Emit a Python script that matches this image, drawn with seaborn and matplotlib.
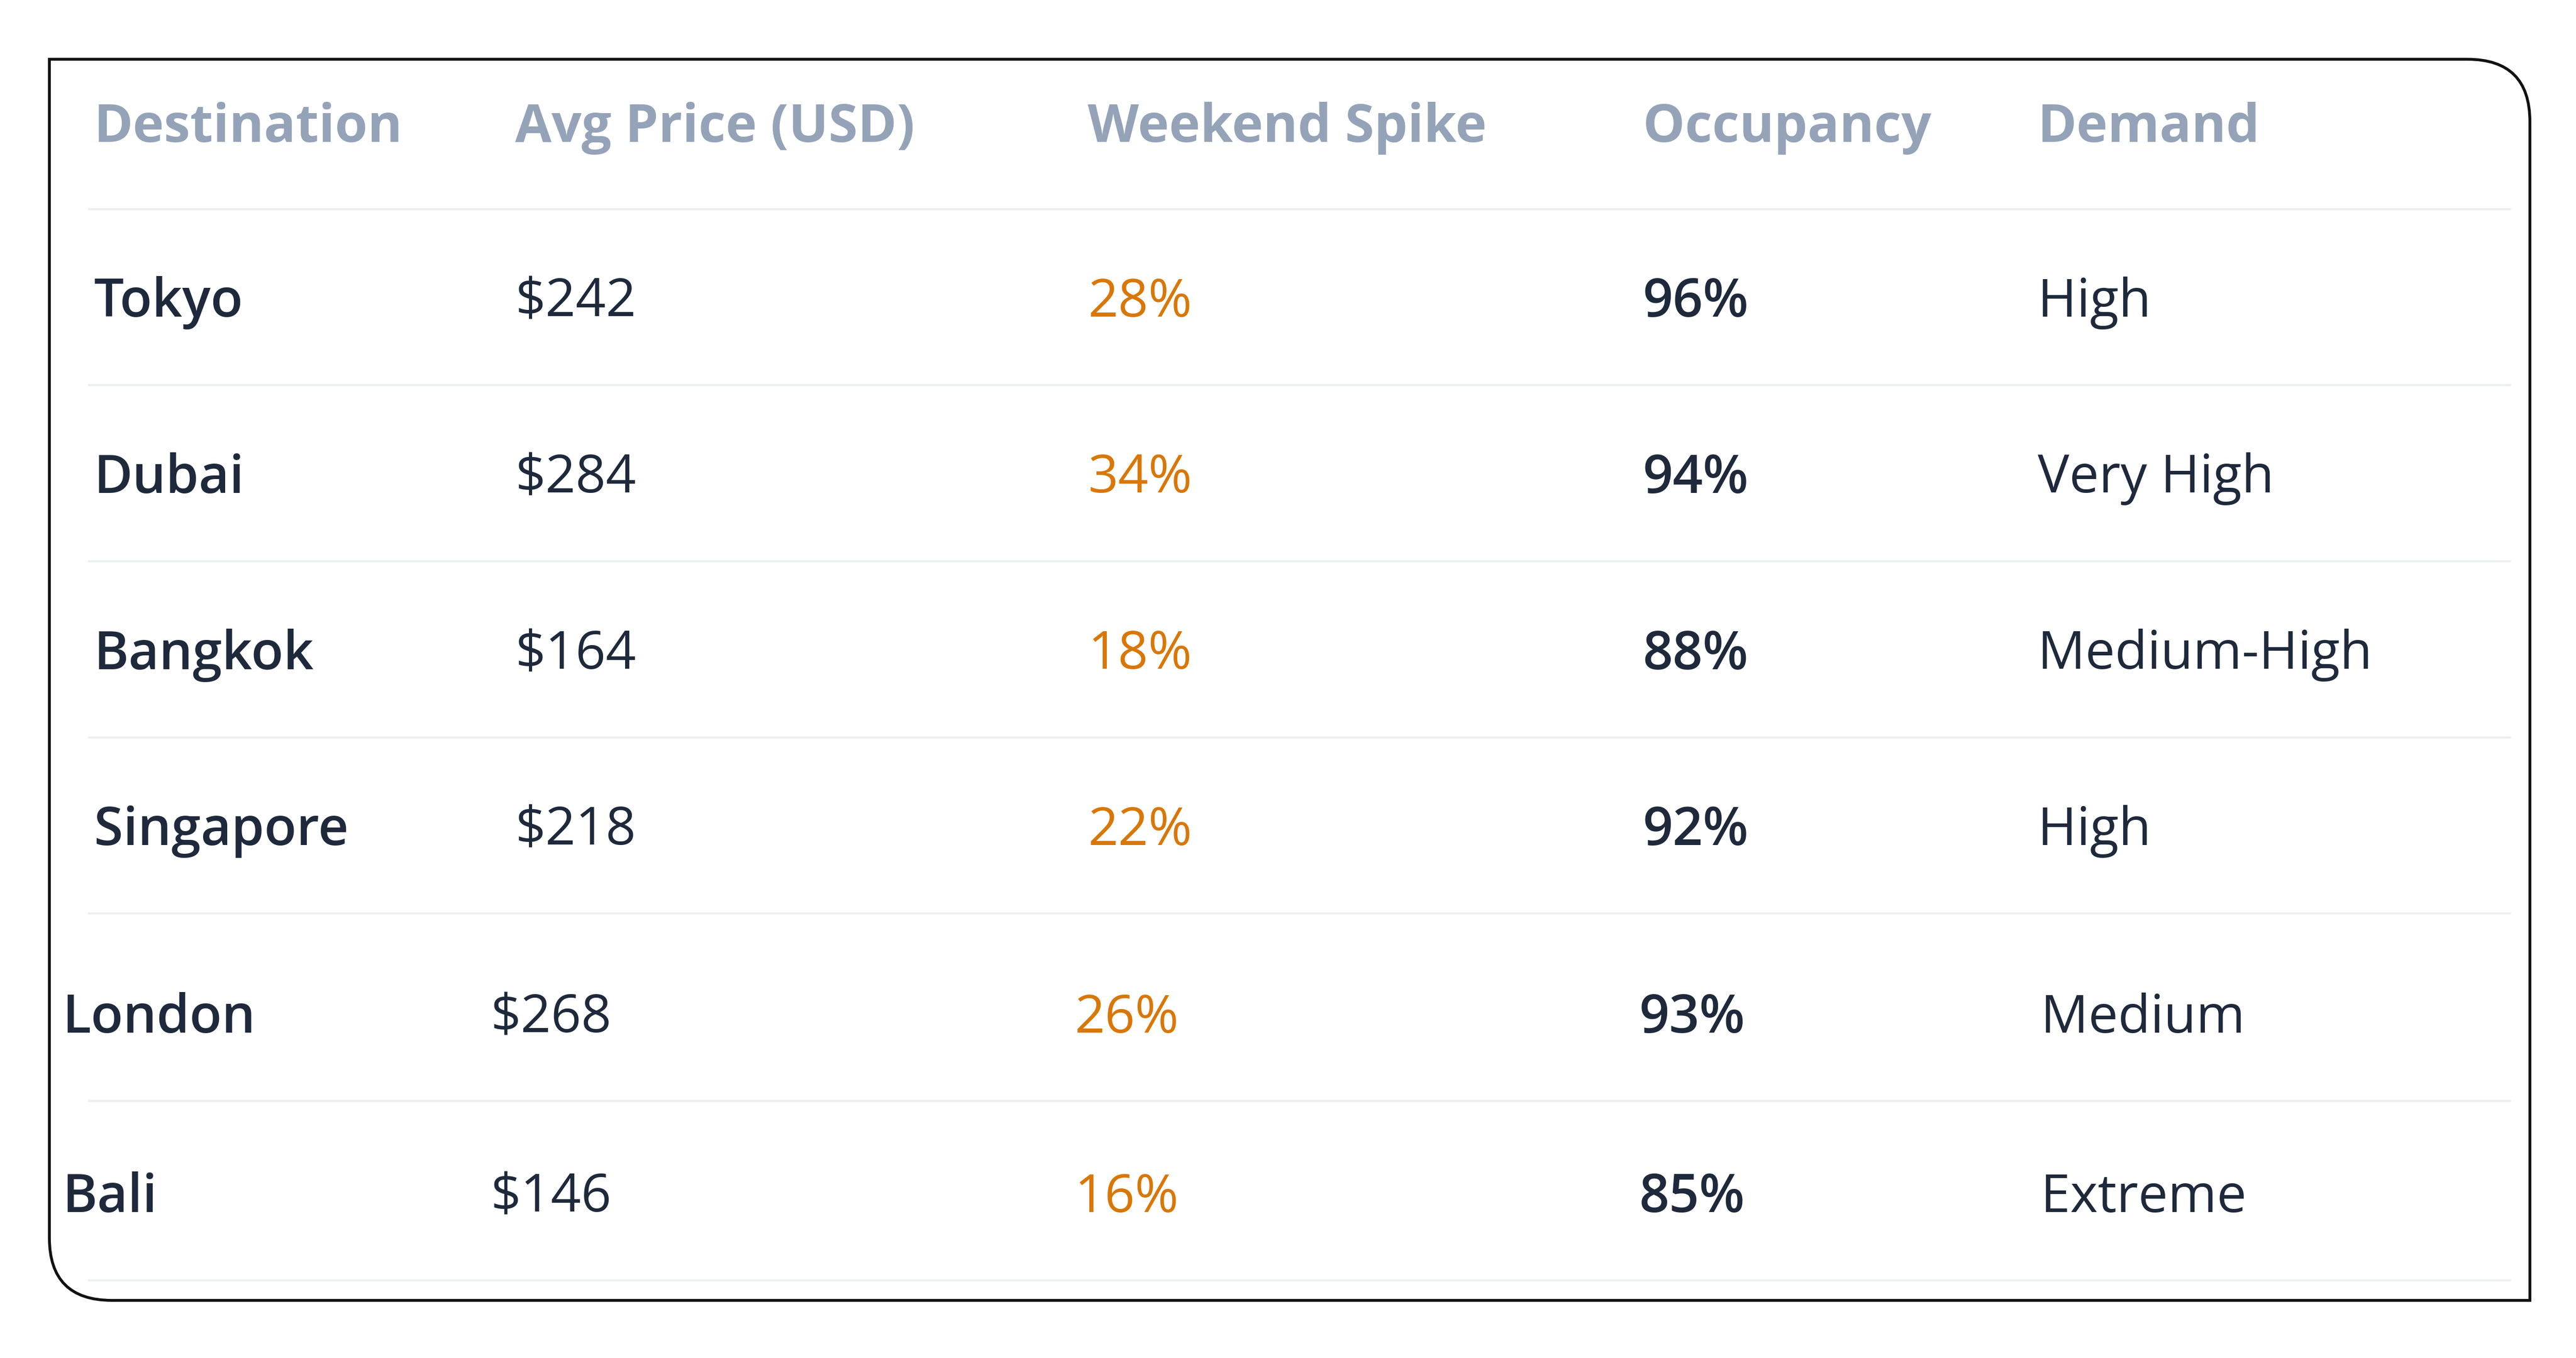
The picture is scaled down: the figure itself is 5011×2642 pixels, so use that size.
import matplotlib.pyplot as plt
import seaborn as sns
from matplotlib.path import Path
from matplotlib.patches import PathPatch

sns.set_theme(style="white")
plt.rcParams['font.family'] = ['Open Sans', 'DejaVu Sans']

headers = ["Destination", "Avg Price (USD)", "Weekend Spike", "Occupancy", "Demand"]
destinations = ["Tokyo", "Dubai", "Bangkok", "Singapore", "London", "Bali"]
prices = [242, 284, 164, 218, 268, 146]
spikes = [28, 34, 18, 22, 26, 16]
occupancy = [96, 94, 88, 92, 93, 85]
demand = ["High", "Very High", "Medium-High", "High", "Medium", "Extreme"]

# layout in reference display pixels (1565 x 825)
W, H = 1565, 825
col_x = [57, 313, 661, 998, 1238]
col_x_shift = [38, 298, 653, 996, 1240]
row_y = [184, 291, 398, 505, 619, 728]
sep_y = [127, 234, 341, 448, 555, 669, 778]

HEAD = "#94a3b8"
DARK = "#1e293b"
ORANGE = "#d97706"
LINE = "#eceff3"

fig = plt.figure(figsize=(50.11, 26.42), dpi=100)
ax = fig.add_axes([0, 0, 1, 1])
ax.set_xlim(0, W)
ax.set_ylim(H, 0)
ax.axis("off")

# card outline: sharp top-left / bottom-right, rounded others
x0, x1, y0, y1, r = 30, 1537, 36, 790, 38
verts = [(x0, y0), (x1 - r, y0), (x1, y0), (x1, y0 + r), (x1, y1), (x0 + r, y1),
         (x0, y1), (x0, y1 - r), (x0, y0)]
codes = [Path.MOVETO, Path.LINETO, Path.CURVE3, Path.CURVE3, Path.LINETO, Path.LINETO,
         Path.CURVE3, Path.CURVE3, Path.CLOSEPOLY]
ax.add_patch(PathPatch(Path(verts, codes), fill=False, edgecolor="#111111", lw=4))

fs = 74
for x, h in zip(col_x, headers):
    ax.text(x, 78, h, color=HEAD, fontsize=fs, fontweight="bold", va="center", ha="left")

for y in sep_y:
    ax.plot([54, 1525], [y, y], color=LINE, lw=3)

for i, y in enumerate(row_y):
    xs = col_x if i < 4 else col_x_shift
    ax.text(xs[0], y, destinations[i], color=DARK, fontsize=fs, fontweight="semibold", va="center")
    ax.text(xs[1], y, f"${prices[i]}", color=DARK, fontsize=fs, va="center")
    ax.text(xs[2], y, f"{spikes[i]}%", color=ORANGE, fontsize=fs, va="center")
    ax.text(xs[3], y, f"{occupancy[i]}%", color=DARK, fontsize=fs, fontweight="semibold", va="center")
    ax.text(xs[4], y, demand[i], color=DARK, fontsize=fs, va="center")

fig.savefig("out.png", dpi=100, facecolor="white")
